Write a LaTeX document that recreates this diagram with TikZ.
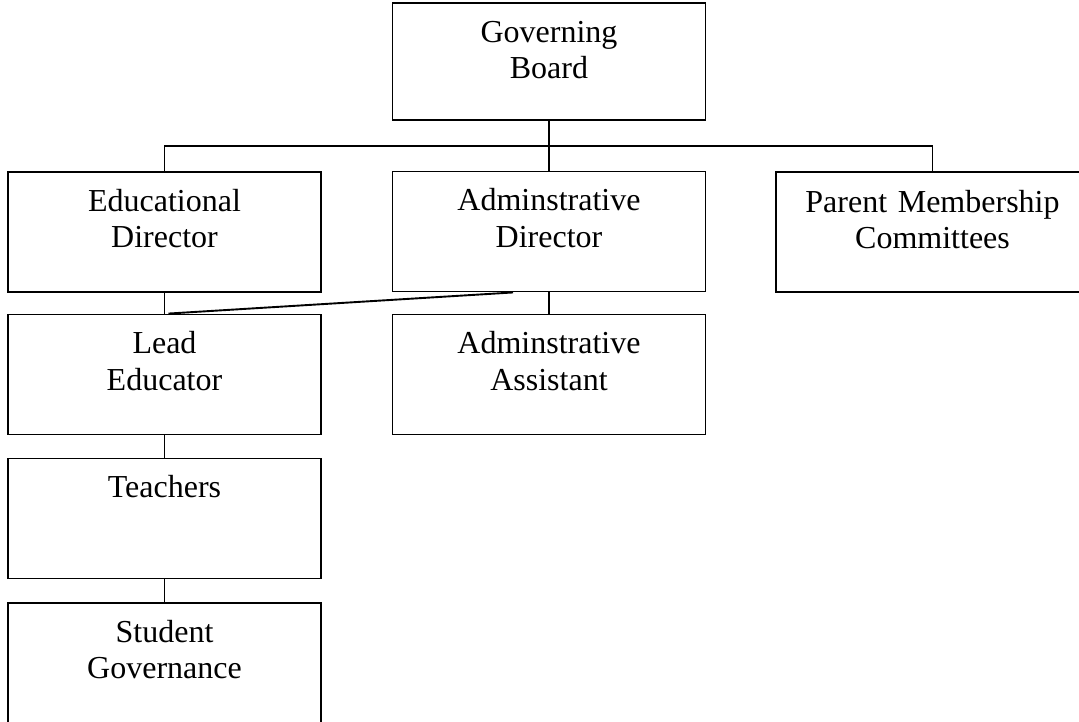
\documentclass[tikz,border=0pt]{standalone}
\usepackage{fontspec}
\setmainfont{Liberation Serif}
\usetikzlibrary{positioning}

\tikzset{
  unit/.style={draw, line width=1.9pt, minimum width=313pt, minimum height=120pt, inner sep=0pt},
  caption/.style={anchor=base, align=center, text width=300pt, inner sep=0pt, font=\fontsize{32}{36.5}\selectfont},
  link/.style={line width=1.9pt},
}

\begin{document}
\begin{tikzpicture}[x=1pt, y=1pt]

\useasboundingbox (0,0) rectangle (1079,-721);
\clip (0,0) rectangle (1079,-721);

\def \colA {164.5}
\def \colB {549}
\def \colC {932.5}
\def \drop {40}

% boxes
\node [unit, minimum height=117pt] (gb) at (\colB, -61.5) {};
\node [unit] (ed) at (\colA, -232) {};
\node [unit] (ad) at (\colB, -231.5) {};
\node [unit, minimum width=330pt] (pm) at (\colC+8.5, -232) {};
\node [unit] (le) at (\colA, -374.5) {};
\node [unit] (aa) at (\colB, -374.5) {};
\node [unit] (te) at (\colA, -518.5) {};
\node [unit, minimum height=160pt] (sg) at (\colA, -683) {};

% titles
\coordinate (pm-top) at (\colC, -172);
\node [caption] (gb-t) at ([yshift=-\drop]gb.north) {Governing\\Board};
\node [caption] (ed-t) at ([yshift=-\drop]ed.north) {Educational\\Director};
\node [caption] (ad-t) at ([yshift=-\drop]ad.north) {Adminstrative\\Director};
\node [caption] (pm-t) at ([yshift=-\drop]pm-top) {Parent Membership\\Committees};
\node [caption] (le-t) at ([yshift=-\drop]le.north) {Lead\\Educator};
\node [caption] (aa-t) at ([yshift=-\drop]aa.north) {Adminstrative\\Assistant};
\node [caption] (te-t) at ([yshift=-\drop]te.north) {Teachers};
\node [caption] (sg-t) at ([yshift=-\drop]sg.north) {Student\\Governance};

% lines
\coordinate (bus) at (\colB, -146);
\draw [link] (gb.south) -- (bus);
\draw [link] (ed.north) |- (bus) -| (pm-top);
\draw [link] (ad.north) -- (bus);

\draw [link] (ed.south) -- (le.north);
\draw [link] ([xshift=4pt]le.north) -- ([xshift=-36pt]ad.south);
\draw [link] (ad.south) -- (aa.north);
\draw [link] (le.south) -- (te.north);
\draw [link] (te.south) -- (sg.north);

\end{tikzpicture}
\end{document}
